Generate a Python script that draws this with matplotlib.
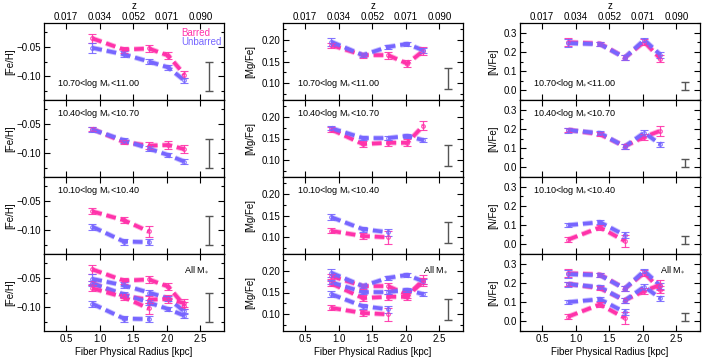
import matplotlib
matplotlib.use('Agg')
import matplotlib.pyplot as plt
import matplotlib.transforms as mtransforms
from matplotlib.ticker import MultipleLocator, FixedLocator

plt.rcParams['font.family'] = ['Liberation Sans', 'DejaVu Sans']
plt.rcParams['mathtext.fontset'] = 'custom'
plt.rcParams['mathtext.rm'] = 'Liberation Sans'
plt.rcParams['mathtext.it'] = 'Liberation Sans:italic'
plt.rcParams['mathtext.bf'] = 'Liberation Sans:bold'
plt.rcParams['lines.scale_dashes'] = False

# ---------------- data ----------------
radius = [0.89, 1.36, 1.73, 2.02, 2.26]
top_tick_pos = [0.5, 1.0, 1.5, 2.0, 2.5]
z_labels = ['0.017', '0.034', '0.052', '0.071', '0.090']
bottom_tick_labels = ['0.5', '1.0', '1.5', '2.0', '2.5']
mass_bins = ['10.70<log M$_{\\ast}$<11.00', '10.40<log M$_{\\ast}$<10.70',
             '10.10<log M$_{\\ast}$<10.40']
all_label = 'All M$_{\\ast}$'

# [Fe/H]
feh_bar_hi = [-0.036, -0.055, -0.053, -0.065, -0.097]
feh_bar_hi_err = [0.008, 0.005, 0.006, 0.006, 0.006]
feh_unb_hi = [-0.052, -0.063, -0.075, -0.085, -0.107]
feh_unb_hi_err = [0.008, 0.005, 0.004, 0.004, 0.004]
feh_bar_mid = [-0.059, -0.081, -0.087, -0.086, -0.093]
feh_bar_mid_err = [0.004, 0.004, 0.006, 0.006, 0.007]
feh_unb_mid = [-0.060, -0.078, -0.092, -0.103, -0.114]
feh_unb_mid_err = [0.004, 0.004, 0.004, 0.004, 0.004]
feh_bar_lo = [-0.068, -0.083, -0.102]
feh_bar_lo_err = [0.005, 0.005, 0.010]
feh_unb_lo = [-0.094, -0.119, -0.120]
feh_unb_lo_err = [0.005, 0.005, 0.005]

# [Mg/Fe]
mgfe_bar_hi = [0.188, 0.165, 0.165, 0.145, 0.175]
mgfe_bar_hi_err = [0.006, 0.006, 0.008, 0.008, 0.010]
mgfe_unb_hi = [0.196, 0.165, 0.184, 0.191, 0.176]
mgfe_unb_hi_err = [0.010, 0.005, 0.005, 0.005, 0.006]
mgfe_bar_mid = [0.171, 0.137, 0.140, 0.140, 0.180]
mgfe_bar_mid_err = [0.005, 0.006, 0.007, 0.008, 0.011]
mgfe_unb_mid = [0.174, 0.151, 0.151, 0.156, 0.146]
mgfe_unb_mid_err = [0.005, 0.004, 0.005, 0.005, 0.005]
mgfe_bar_lo = [0.114, 0.102, 0.099]
mgfe_bar_lo_err = [0.006, 0.008, 0.015]
mgfe_unb_lo = [0.146, 0.118, 0.111]
mgfe_unb_lo_err = [0.007, 0.006, 0.008]

# [N/Fe]
nfe_bar_hi = [0.250, 0.243, 0.170, 0.252, 0.165]
nfe_bar_hi_err = [0.020, 0.010, 0.012, 0.015, 0.020]
nfe_unb_hi = [0.245, 0.240, 0.170, 0.262, 0.185]
nfe_unb_hi_err = [0.020, 0.010, 0.012, 0.012, 0.015]
nfe_bar_mid = [0.195, 0.172, 0.110, 0.158, 0.190]
nfe_bar_mid_err = [0.012, 0.010, 0.012, 0.015, 0.025]
nfe_unb_mid = [0.193, 0.178, 0.108, 0.180, 0.120]
nfe_unb_mid_err = [0.012, 0.010, 0.012, 0.015, 0.012]
nfe_bar_lo = [0.025, 0.088, 0.018]
nfe_bar_lo_err = [0.015, 0.012, 0.030]
nfe_unb_lo = [0.100, 0.115, 0.048]
nfe_unb_lo_err = [0.010, 0.010, 0.015]

rep_err_x = 2.62
rep_err_center = [-0.100, 0.110, 0.022]
rep_err_half = [0.025, 0.025, 0.022]

ylabels = ['[Fe/H]', '[Mg/Fe]', '[N/Fe]']
ylims = [(-0.14, -0.01), (0.06, 0.24), (-0.05, 0.35)]
yticks = [[-0.10, -0.05], [0.10, 0.15, 0.20], [0.0, 0.1, 0.2, 0.3]]
ytick_fmt = ['{:.2f}', '{:.2f}', '{:.1f}']
yminor = [0.025, 0.025, 0.05]

elements = [
    [(feh_bar_hi, feh_bar_hi_err, feh_unb_hi, feh_unb_hi_err),
     (feh_bar_mid, feh_bar_mid_err, feh_unb_mid, feh_unb_mid_err),
     (feh_bar_lo, feh_bar_lo_err, feh_unb_lo, feh_unb_lo_err)],
    [(mgfe_bar_hi, mgfe_bar_hi_err, mgfe_unb_hi, mgfe_unb_hi_err),
     (mgfe_bar_mid, mgfe_bar_mid_err, mgfe_unb_mid, mgfe_unb_mid_err),
     (mgfe_bar_lo, mgfe_bar_lo_err, mgfe_unb_lo, mgfe_unb_lo_err)],
    [(nfe_bar_hi, nfe_bar_hi_err, nfe_unb_hi, nfe_unb_hi_err),
     (nfe_bar_mid, nfe_bar_mid_err, nfe_unb_mid, nfe_unb_mid_err),
     (nfe_bar_lo, nfe_bar_lo_err, nfe_unb_lo, nfe_unb_lo_err)],
]

PINK = '#ff33aa'
BLUE = '#7766ff'
FS = 7

# ---------------- figure ----------------
W, H = 702, 357
fig = plt.figure(figsize=(W / 100, H / 100), dpi=100)

col_left_px = [44, 283, 520]
col_w_px = 180
row_top_px = [23, 100, 177, 254]
row_h_px = 77
ylabel_x = [-0.19, -0.18, -0.15]
label_x = [0.072, 0.076, 0.072]


def draw_series(ax, y, err, color):
    x = radius[:len(y)]
    ax.plot(x, y, color=color, lw=3.9, alpha=0.4, dashes=(7, 3.5),
            dash_capstyle='butt', zorder=3)
    ax.plot(x, y, color=color, lw=2.6, dashes=(7, 3.5),
            dash_capstyle='butt', zorder=3)
    ax.errorbar(x, y, yerr=err, fmt='o', ms=2.6, mfc='none', mec=color,
                mew=0.8, ecolor=color, elinewidth=0.9, capsize=2.6,
                capthick=0.9, zorder=4, alpha=0.9)


for c in range(3):
    for r in range(4):
        left = col_left_px[c] / W
        bottom = 1 - (row_top_px[r] + row_h_px) / H
        ax = fig.add_axes([left, bottom, col_w_px / W, row_h_px / H])
        ax.set_xlim(0.17, 2.85)
        ax.set_ylim(*ylims[c])
        for sp in ax.spines.values():
            sp.set_linewidth(0.9)
        ax.xaxis.set_major_locator(FixedLocator(top_tick_pos))
        ax.yaxis.set_major_locator(FixedLocator(yticks[c]))
        ax.yaxis.set_minor_locator(MultipleLocator(yminor[c]))
        ax.tick_params(which='both', direction='in', top=True, right=True,
                       labelsize=FS, width=0.8, pad=2)
        ax.tick_params(which='major', length=4)
        ax.tick_params(which='minor', length=2)
        ax.set_yticklabels([ytick_fmt[c].format(v).replace('-', '\u2212')
                            for v in yticks[c]])
        if r == 3:
            ax.set_xticklabels(bottom_tick_labels)
            ax.set_xlabel('Fiber Physical Radius [kpc]', fontsize=FS, labelpad=2)
        else:
            ax.set_xticklabels([])
        if r == 0:
            trans = mtransforms.blended_transform_factory(ax.transData, ax.transAxes)
            for xp, lab in zip(top_tick_pos, z_labels):
                ax.text(xp, 1.078, lab, transform=trans, fontsize=FS,
                        ha='center', va='center', clip_on=False)
            ax.text(0.5, 1.22, 'z', transform=ax.transAxes, fontsize=FS,
                    ha='center', va='center', clip_on=False)
        ax.set_ylabel(ylabels[c], fontsize=FS, va='center')
        ax.yaxis.set_label_coords(ylabel_x[c], 0.5)

        bins = range(3) if r == 3 else [r]
        for b in bins:
            bar, bar_err, unb, unb_err = elements[c][b]
            draw_series(ax, bar, bar_err, PINK)
            draw_series(ax, unb, unb_err, BLUE)

        ax.errorbar([rep_err_x], [rep_err_center[c]], yerr=[rep_err_half[c]],
                    fmt='none', ecolor='#555555', elinewidth=1.0, capsize=3,
                    capthick=1.0, zorder=2)

        if r == 0:
            ax.text(label_x[c], 0.22, mass_bins[0], transform=ax.transAxes,
                    fontsize=6.5, va='center', ha='left')
        elif r in (1, 2):
            ax.text(label_x[c], 0.82, mass_bins[r], transform=ax.transAxes,
                    fontsize=6.5, va='center', ha='left')
        else:
            ax.text(0.78, 0.79, all_label, transform=ax.transAxes,
                    fontsize=6.5, va='center', ha='left')

        if c == 0 and r == 0:
            ax.text(0.765, 0.865, 'Barred', color=PINK, transform=ax.transAxes,
                    fontsize=7, va='center', ha='left')
            ax.text(0.765, 0.755, 'Unbarred', color=BLUE, transform=ax.transAxes,
                    fontsize=7, va='center', ha='left')

fig.savefig('out.png', dpi=100)
